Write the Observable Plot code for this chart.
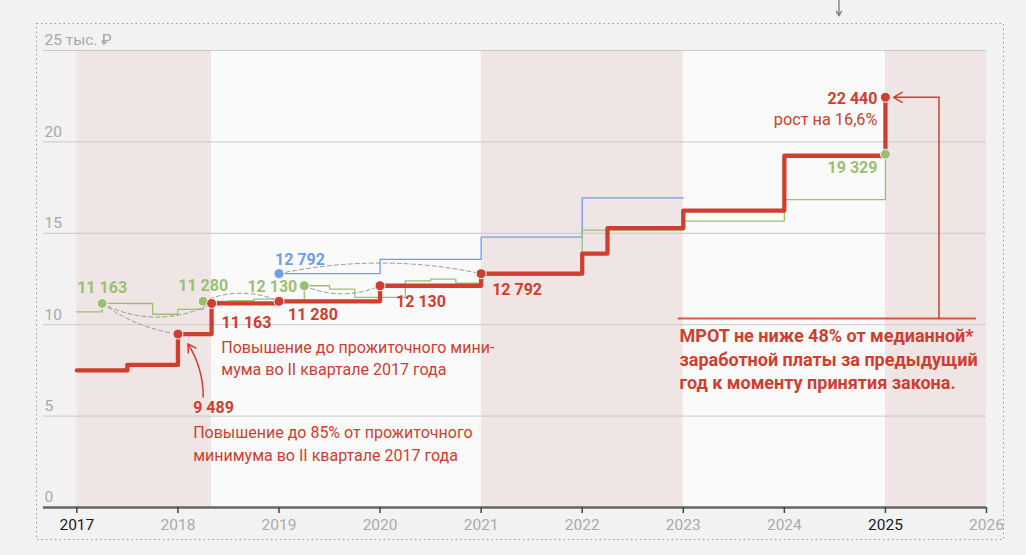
<!DOCTYPE html>
<html><head><meta charset="utf-8">
<script src="https://cdn.jsdelivr.net/npm/d3@7"></script>
<script src="https://cdn.jsdelivr.net/npm/@observablehq/plot@0.6"></script>
<style>
html,body{margin:0;padding:0;background:#f2f2f2;}
#chart{width:1026px;height:555px;}
svg{display:block;font-family:Roboto,sans-serif;}
</style>
</head><body><div id="chart"></div>
<script>
// ---- data ----
const years = [2017, 2018, 2019, 2020, 2021, 2022, 2023, 2024, 2025, 2026];
const boldYears = [2017, 2025];
const yTicks = [0, 5000, 10000, 15000, 20000, 25000];
const yTickLabels = ["0", "5", "10", "15", "20", "25 тыс. ₽"];

const bandStart = [2017, 2018.333, 2021, 2023, 2025];
const bandEnd   = [2018.333, 2021, 2023, 2025, 2026];
const bandKind  = ["pink", "white", "pink", "white", "pink"];

// МРОТ (red)
const mrotDates  = [2017, 2017.5, 2018, 2018.333, 2019, 2020, 2021, 2022, 2022.25, 2023, 2024, 2025];
const mrotValues = [7500, 7800, 9489, 11163, 11280, 12130, 12792, 13890, 15279, 16242, 19242, 22440];

// прожиточный минимум (green)
const subsDates  = [2017, 2017.25, 2017.5, 2017.75, 2018, 2018.25, 2018.5, 2018.75, 2019, 2019.25, 2019.5, 2019.75, 2020, 2020.25, 2020.5, 2020.75, 2021, 2022, 2023, 2024, 2025];
const subsValues = [10701, 11163, 11160, 10573, 10842, 11280, 11310, 11400, 11250, 12130, 11942, 11500, 11500, 12392, 12490, 12270, 12702, 15172, 15669, 16844, 19329];

// blue series
const blueDates  = [2019, 2020, 2021, 2022, 2023];
const blueValues = [12792, 13570, 14790, 16940, 16940];

// highlighted points
const redPtDates   = [2018, 2018.333, 2019, 2020, 2021, 2025];
const redPtValues  = [9489, 11163, 11280, 12130, 12792, 22440];
const greenPtDates = [2017.25, 2018.25, 2019.25, 2025];
const greenPtValues= [11163, 11280, 12130, 19329];
const bluePtDates  = [2019];
const bluePtValues = [12792];

// dashed connectors: from -> to
const arcFromX = [2017.25, 2017.25, 2018.25, 2019.25, 2019];
const arcFromY = [11163, 11163, 11280, 12130, 12792];
const arcToX   = [2018, 2018.333, 2019, 2020, 2021];
const arcToY   = [9489, 11163, 11280, 12130, 12792];
const arcBend  = [-14, -28, 24, -24, 12];

// texts
const noteLeft1 = ["Повышение до прожиточного мини-", "мума во II квартале 2017 года"];
const noteLeft2 = ["Повышение до 85% от прожиточного", "минимума во II квартале 2017 года"];
const noteRight = ["МРОТ не ниже 48% от медианной*", "заработной платы за предыдущий", "год к моменту принятия закона."];

// ---- build ----
const red = "#cf3e2e", green = "#9bbf72", blue = "#6c9ef0";
const zip = (xs, ys) => xs.map((x, i) => ({x, y: ys[i]}));
const mrot = zip(mrotDates, mrotValues);
const subs = zip(subsDates, subsValues);
const blueLine = zip(blueDates, blueValues);
const bands = bandStart.map((s, i) => ({x1: s, x2: bandEnd[i], kind: bandKind[i]}));
const arcs = arcFromX.map((x, i) => ({x1: x, y1: arcFromY[i], x2: arcToX[i], y2: arcToY[i], bend: arcBend[i]}));
const fmt = v => d3.format(",")(v).replace(/,/g, " ");
const ytk = yTicks.map((v, i) => ({v, t: yTickLabels[i]}));

const noteL1 = noteLeft1.map((t, i) => ({t, x: 2018.429, y: [8736, 7522][i]}));
const noteL2 = noteLeft2.map((t, i) => ({t, x: 2018.151, y: [4075, 2845][i]}));
const noteR = noteRight.map((t, i) => ({t, x: 2022.963, y: [9354, 8042, 6783][i]}));

const lbl = (x, y, text, fill, o) => Plot.text([{x, y}], {x: "x", y: "y", text: () => text, fill, fontSize: 16, fontWeight: 700, ...o});

const chart = Plot.plot({
  width: 1026, height: 555,
  marginLeft: 43, marginRight: 40, marginTop: 50, marginBottom: 48,
  x: {domain: [2016.67, 2026], axis: null},
  y: {domain: [0, 25000], axis: null},
  style: {background: "transparent", fontFamily: "Roboto, sans-serif", overflow: "visible"},
  marks: [
    Plot.frame({stroke: "#9a9a9a", strokeDasharray: "1.5,3", insetLeft: -7, insetRight: -17, insetTop: -27, insetBottom: -32}),
    Plot.rect(bands.filter(d => d.kind === "pink"), {x1: "x1", x2: "x2", y1: 0, y2: 25000, fill: "#efe5e4"}),
    Plot.rect(bands.filter(d => d.kind === "white"), {x1: "x1", x2: "x2", y1: 0, y2: 25000, fill: "#fafafa"}),
    Plot.ruleY(yTicks.filter(v => v > 0), {y: d => d, stroke: "#c8c8c8", strokeWidth: 1}),
    Plot.text(ytk, {y: "v", text: "t", frameAnchor: "left", textAnchor: "start", dx: 1, dy: -10, fill: "#a8a8a8", fontSize: 15.5}),
    Plot.ruleY([0], {stroke: "#666", strokeWidth: 2.5}),
    Plot.ruleX(years, {x: d => d, y1: 0, y2: -330, stroke: "#444", strokeWidth: 1.5}),
    Plot.text(years.filter(y => !boldYears.includes(y)), {x: d => d, frameAnchor: "bottom", dy: 22, text: d => String(d), fill: "#aaa", fontSize: 15.5}),
    Plot.text(boldYears, {x: d => d, frameAnchor: "bottom", dy: 22, text: d => String(d), fill: "#1a1a1a", fontSize: 15.5}),

    // top arrow (from outside)
    Plot.arrow([{x: 2024.54, y1: 27735, y2: 26900}], {x1: "x", x2: "x", y1: "y1", y2: "y2", stroke: "#888", strokeWidth: 1.5, headLength: 9}),

    Plot.line(blueLine, {x: "x", y: "y", curve: "step-after", stroke: blue, strokeWidth: 1.3}),
    Plot.line(subs, {x: "x", y: "y", curve: "step-after", stroke: green, strokeWidth: 1.3}),
    Plot.line(mrot, {x: "x", y: "y", curve: "step-after", stroke: red, strokeWidth: 4.3}),

    ...arcs.map(a => Plot.arrow([a], {x1: "x1", y1: "y1", x2: "x2", y2: "y2", bend: a.bend, headLength: 0, stroke: "#999", strokeWidth: 1, strokeDasharray: "4,3"})),

    Plot.dot(zip(bluePtDates, bluePtValues), {x: "x", y: "y", r: 5, fill: blue, stroke: "#fafafa", strokeWidth: 1}),
    Plot.dot(zip(greenPtDates, greenPtValues), {x: "x", y: "y", r: 5, fill: green, stroke: "#fafafa", strokeWidth: 1}),
    Plot.dot(zip(redPtDates, redPtValues), {x: "x", y: "y", r: 5, fill: red, stroke: "#fafafa", strokeWidth: 1}),

    // labels near points
    lbl(2017.25, 11163, fmt(11163), green, {dy: -16}),
    lbl(2018.25, 11280, fmt(11280), green, {dy: -15}),
    lbl(2019.25, 12130, fmt(12130), green, {textAnchor: "end", dx: -7, dy: 1}),
    lbl(2019, 12792, fmt(12792), blue, {textAnchor: "start", dx: -4, dy: -14}),
    lbl(2018.333, 11163, fmt(11163), red, {textAnchor: "start", dx: 10, dy: 19}),
    lbl(2019, 11280, fmt(11280), red, {textAnchor: "start", dx: 9, dy: 14}),
    lbl(2020, 12130, fmt(12130), red, {textAnchor: "start", dx: 16, dy: 16}),
    lbl(2021, 12792, fmt(12792), red, {textAnchor: "start", dx: 11, dy: 16}),
    lbl(2018.151, 5432, fmt(9489), red, {textAnchor: "start"}),
    lbl(2025, 22440, fmt(22440), red, {textAnchor: "end", dx: -8, dy: 2}),
    lbl(2025, 22440, "рост на 16,6%", red, {textAnchor: "end", dx: -8, dy: 22, fontWeight: 400, fontSize: 16.3}),
    lbl(2025, 19329, fmt(19329), green, {textAnchor: "end", dx: -8, dy: 14}),

    // annotation arrow to 9 489
    Plot.arrow([{x1: 2018.25, y1: 6050, x2: 2018.1, y2: 8950}], {x1: "x1", y1: "y1", x2: "x2", y2: "y2", bend: -16, stroke: red, strokeWidth: 1.5, headLength: 9}),

    Plot.text(noteL1, {x: "x", y: "y", text: "t", textAnchor: "start", fill: red, fontSize: 16}),
    Plot.text(noteL2, {x: "x", y: "y", text: "t", textAnchor: "start", fill: red, fontSize: 16}),

    // right annotation
    Plot.ruleY([10340], {x1: 2022.95, x2: 2025.9, stroke: red, strokeOpacity: 0.85, strokeWidth: 2}),
    Plot.line([{x: 2025.53, y: 10340}, {x: 2025.53, y: 22440}], {x: "x", y: "y", stroke: red, strokeWidth: 1.5}),
    Plot.arrow([{x1: 2025.53, y1: 22440, x2: 2025.08, y2: 22440}], {x1: "x1", y1: "y1", x2: "x2", y2: "y2", stroke: red, strokeWidth: 1.5, headLength: 10}),
    Plot.text(noteR, {x: "x", y: "y", text: "t", textAnchor: "start", fill: red, fontSize: 18, fontWeight: 700})
  ]
});
document.getElementById("chart").appendChild(chart);
</script>
</body></html>
